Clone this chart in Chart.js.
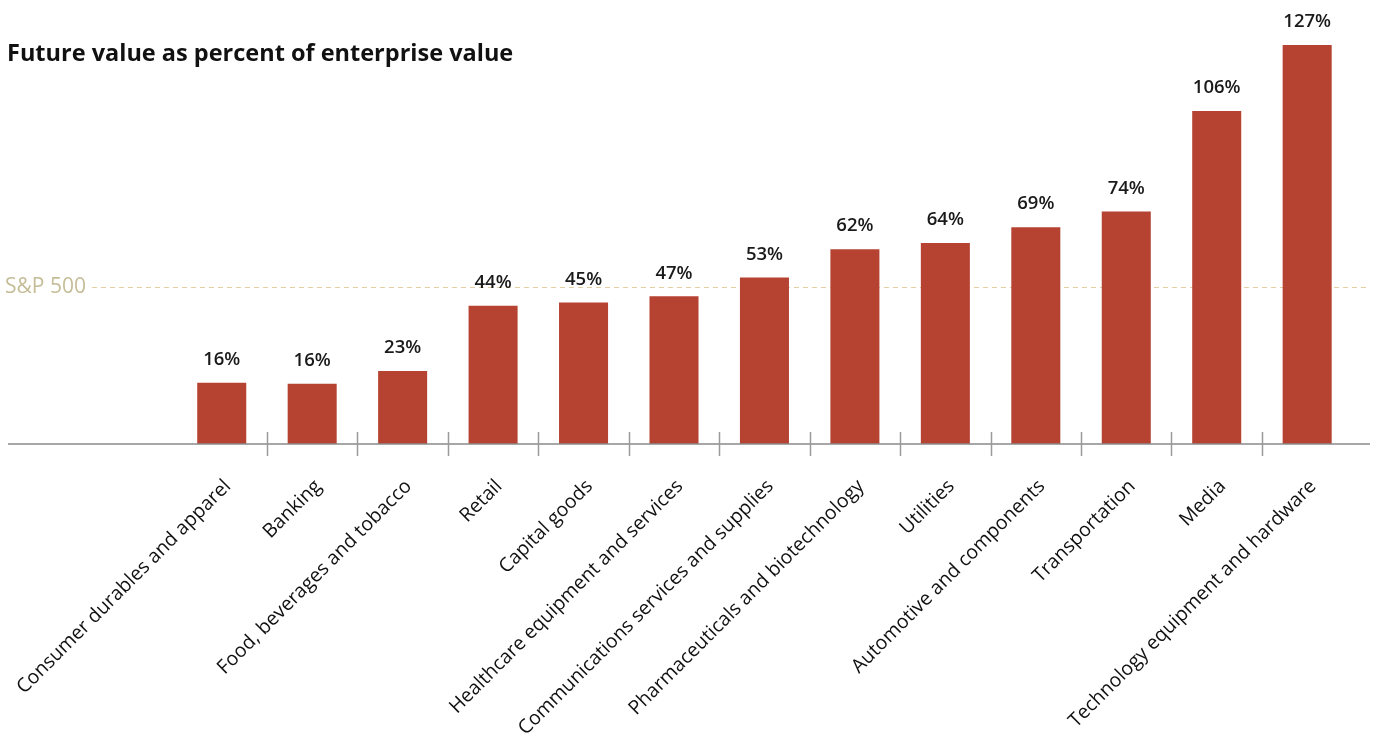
<!DOCTYPE html>
<html><head><meta charset="utf-8">
<script src="https://cdn.jsdelivr.net/npm/chart.js@4.4.0/dist/chart.umd.min.js"></script>
<style>html,body{margin:0;padding:0;background:#fff}#wrap{width:1375px;height:734px;position:relative}</style>
</head><body><div id="wrap"><canvas id="c"></canvas></div>
<script>
const titleText = 'Future value as percent of enterprise value';
const categories = ['Consumer durables and apparel','Banking','Food, beverages and tobacco','Retail','Capital goods','Healthcare equipment and services','Communications services and supplies','Pharmaceuticals and biotechnology','Utilities','Automotive and components','Transportation','Media','Technology equipment and hardware'];
const values = [19.5, 19.2, 23.2, 44, 45, 47, 53, 62, 64, 69, 74, 106, 127];
const valueLabels = ['16%','16%','23%','44%','45%','47%','53%','62%','64%','69%','74%','106%','127%'];
const benchmarkLabel = 'S&P 500';
const benchmarkValue = 50;
const yMax = 141.3;

const FONT = '"Open Sans", sans-serif';

const decor = {
  id: 'decor',
  beforeDatasetsDraw(chart) {
    const ctx = chart.ctx, y = chart.scales.y;
    const yb = y.getPixelForValue(benchmarkValue);
    ctx.save();
    ctx.font = '21px ' + FONT;
    ctx.fillStyle = '#c5bd97';
    ctx.textBaseline = 'middle';
    ctx.textAlign = 'left';
    ctx.fillText(benchmarkLabel, 5, yb);
    const lw = ctx.measureText(benchmarkLabel).width;
    ctx.strokeStyle = '#e2cfa3';
    ctx.lineWidth = 1;
    ctx.setLineDash([5, 4]);
    ctx.beginPath(); ctx.moveTo(5 + lw + 6, Math.round(yb) + 0.5); ctx.lineTo(chart.width - 5, Math.round(yb) + 0.5); ctx.stroke();
    ctx.restore();
  },
  afterDatasetsDraw(chart) {
    const ctx = chart.ctx, x = chart.scales.x, y = chart.scales.y;
    const y0 = y.getPixelForValue(0);
    ctx.save();
    // baseline
    ctx.strokeStyle = '#8a8a8a';
    ctx.lineWidth = 1.5;
    ctx.beginPath(); ctx.moveTo(8, y0); ctx.lineTo(chart.width - 5, y0); ctx.stroke();
    // tick marks between categories
    ctx.strokeStyle = '#9a9a9a';
    ctx.lineWidth = 1.5;
    for (let i = 1; i < categories.length; i++) {
      const px = Math.round((x.getPixelForValue(i - 1) + x.getPixelForValue(i)) / 2) + 0.5;
      ctx.beginPath(); ctx.moveTo(px, y0 - 12); ctx.lineTo(px, y0 + 12); ctx.stroke();
    }
    // value labels
    const meta = chart.getDatasetMeta(0);
    ctx.font = '600 18.5px ' + FONT;
    ctx.fillStyle = '#1a1a1a';
    ctx.textAlign = 'center';
    ctx.textBaseline = 'middle';
    meta.data.forEach((bar, i) => {
      ctx.fillText(valueLabels[i], bar.x, bar.y - 23);
    });
    // title
    ctx.font = 'bold 23.5px ' + FONT;
    ctx.fillStyle = '#111';
    ctx.textAlign = 'left';
    ctx.fillText(titleText, 7, 54);
    ctx.restore();
  }
};

new Chart(document.getElementById('c'), {
  type: 'bar',
  data: {
    labels: categories,
    datasets: [{ data: values, backgroundColor: '#b64232', borderWidth: 0, barPercentage: 0.542, categoryPercentage: 1 }]
  },
  options: {
    responsive: true,
    maintainAspectRatio: false,
    animation: false,
    layout: { padding: { left: 176.5, right: 22.6, top: 0, bottom: 0 } },
    plugins: { legend: { display: false }, tooltip: { enabled: false }, title: { display: false } },
    scales: {
      y: { display: false, min: 0, max: yMax },
      x: {
        border: { display: false },
        grid: { display: false, drawTicks: false },
        ticks: {
          autoSkip: false, maxRotation: 45, minRotation: 45,
          padding: 31, labelOffset: 6,
          color: '#111', font: { family: FONT, size: 19.5 }
        },
        afterFit(scale) { scale.height = 290; scale.paddingLeft = 0; scale.paddingRight = 0; }
      }
    }
  },
  plugins: [decor]
});
</script>
</body></html>
